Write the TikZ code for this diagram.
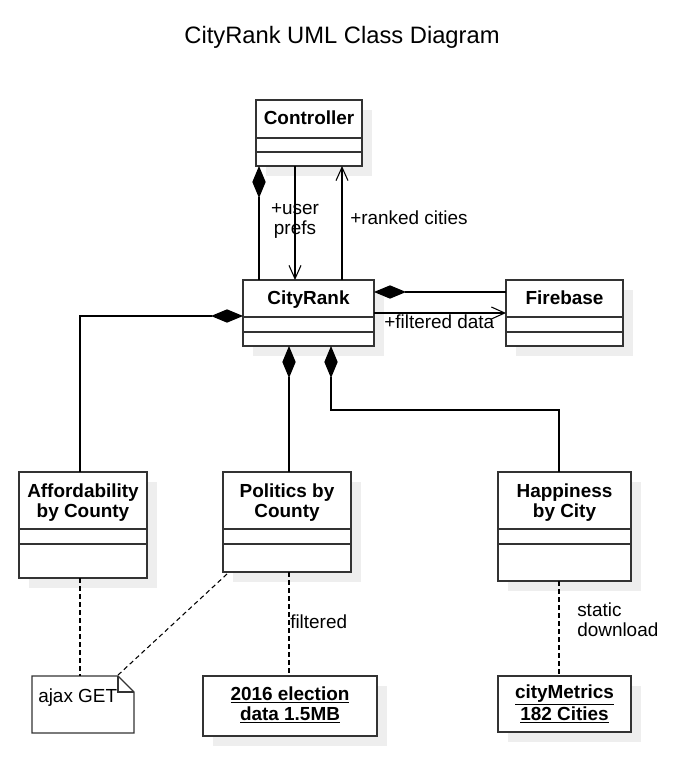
\documentclass[tikz,border=0pt]{standalone}
\usepackage{fontspec}
\setmainfont{Liberation Sans}
\usetikzlibrary{arrows.meta,calc}
\definecolor{shad}{HTML}{EEEEEE}
\definecolor{linec}{HTML}{333333}
\tikzset{
 boxline/.style={draw=linec, line width=1pt},
 clsbox/.style={draw=linec, fill=white, line width=1pt, anchor=north west, inner sep=0pt, outer sep=0pt},
 conn/.style={draw=black, line width=0.8pt},
 comp/.style={conn, {Diamond[length=24pt,width=10pt]}-},
 nav/.style={conn, -{Straight Barb[length=10pt,width=9pt]}},
 dep/.style={conn, dash pattern=on 3.5pt off 2.5pt},
 cname/.style={font=\fontsize{14.2}{15}\selectfont\bfseries, align=center, anchor=base, inner sep=0pt},
 lbl/.style={font=\fontsize{14.2}{15}\selectfont, inner sep=0pt},
}
% name, x1, y1, x2, y2, compartment line 1, compartment line 2
\newcommand\umlcls[7]{%
  \fill[shad] (#2+10,#3+10) rectangle (#4+10,#5+10);
  \node[clsbox, minimum width={(#4-#2)*0.75pt}, minimum height={(#5-#3)*0.75pt}] (#1) at (#2,#3) {};
  \draw[boxline] (#2,#6) -- (#4,#6) (#2,#7) -- (#4,#7);
}
\newcommand\umlobj[5]{%
  \fill[shad] (#2+10,#3+10) rectangle (#4+10,#5+10);
  \node[clsbox, minimum width={(#4-#2)*0.75pt}, minimum height={(#5-#3)*0.75pt}] (#1) at (#2,#3) {};
}
\begin{document}
\begin{tikzpicture}[x=0.75pt,y=-0.75pt]
\useasboundingbox (0,0) rectangle (684,762);

\node[font=\fontsize{17.8}{21}\selectfont, anchor=base, inner sep=0pt] (title) at (342,44) {CityRank UML Class Diagram};

% classes
\umlcls{ctrl}{256}{100}{362}{166}{138}{152}
\umlcls{cr}{243}{280}{374}{346}{317}{332}
\umlcls{fb}{506}{280}{623}{346}{317}{332}
\umlcls{aff}{19}{472}{147}{578}{529}{544}
\umlcls{pol}{223}{472}{351}{572}{529}{544}
\umlcls{hap}{498}{472}{631}{581}{529}{544}
\umlobj{elec}{203}{676}{377}{736}
\umlobj{cm}{498}{676}{631}{732}

% note
\node[anchor=north west, minimum width={102*0.75pt}, minimum height={57*0.75pt}, inner sep=0pt, outer sep=0pt] (note) at (32,676) {};
\draw[boxline, fill=white] (note.north west) -- ($(note.north east)+(-16,0)$) -- ($(note.north east)+(0,16)$) -- (note.south east) -- (note.south west) -- cycle;
\draw[boxline] ($(note.north east)+(-16,0)$) |- ($(note.north east)+(0,16)$);

% class names (multi-line nodes: base = last line's baseline)
\node[cname] (ctrlt) at (309,125) {Controller};
\node[cname] (crt) at (308.5,305) {CityRank};
\node[cname] (fbt) at (564.5,305) {Firebase};
\node[cname] (afft) at (83,517) {Affordability\\by County};
\node[cname] (polt) at (287,517) {Politics by\\County};
\node[cname] (hapt) at (564.5,517) {Happiness\\by City};
\node[cname] (elect) at (290,720) {\underline{2016 election}\\\underline{data 1.5MB}};
\node[cname] (cmt) at (564.5,720) {\underline{cityMetrics}\\\underline{182 Cities}};

% connectors
\draw[comp] ($(ctrl.south west)+(3,0)$) -- ($(cr.north west)+(16,0)$);
\draw[nav] ($(ctrl.south west)+(39,0)$) -- ($(cr.north west)+(52,0)$);
\draw[nav] ($(cr.north west)+(99,0)$) -- ($(ctrl.south west)+(86,0)$);
\draw[comp] ($(cr.north east)+(0,12)$) -- ($(fb.north west)+(0,12)$);
\draw[nav] ($(cr.north east)+(0,33)$) -- ($(fb.north west)+(0,33)$);
\draw[comp] ($(cr.north west)+(0,36)$) -| ($(aff.north west)+(61,0)$);
\draw[comp] ($(cr.south west)+(46,0)$) -- ($(pol.north west)+(66,0)$);
\draw[comp] ($(cr.south west)+(88,0)$) |- ($(hap.north west)+(61,-62)$) -- ($(hap.north west)+(61,0)$);

\draw[dep] ($(aff.south west)+(61,0)$) -- ($(note.north west)+(48,0)$);
\draw[dep] ($(pol.south west)+(4,2)$) -- ($(note.north east)+(-17,0)$);
\draw[dep] ($(pol.south west)+(66,0)$) -- ($(elec.north west)+(86,0)$);
\draw[dep] ($(hap.south west)+(61,0)$) -- ($(cm.north west)+(61,0)$);

% labels
\node[lbl, align=center, anchor=base] (up) at (295,235) {+user\\prefs};
\node[lbl, anchor=base west] (rc) at (350,225) {+ranked cities};
\node[lbl, anchor=base west] (fd) at (384,329) {+filtered data};
\node[lbl, anchor=base west] (fl) at (290,628) {filtered};
\node[lbl, align=left, anchor=base west] (sd) at (577,636) {static\\download};
\node[lbl, anchor=base west] (aj) at (38,702) {ajax GET};
\end{tikzpicture}
\end{document}
